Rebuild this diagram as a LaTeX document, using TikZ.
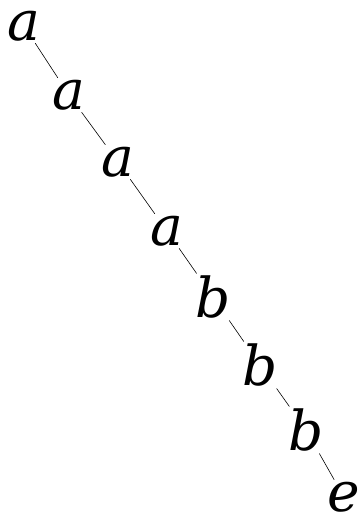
\documentclass[tikz,border=0pt]{standalone}
\usepackage{fontspec}
\setmainfont{DejaVu Serif}
\begin{document}
\begin{tikzpicture}[x=1pt,y=-1pt,
  lt/.style={font=\fontsize{55}{59}\selectfont\itshape, inner sep=2pt},
  edge/.style={draw=black, line width=0.6pt}]
\useasboundingbox (0,0) rectangle (359,526);
\node[lt] (n1) at (24,26) {a};
\node[lt] (n2) at (69,95) {a};
\node[lt] (n3) at (118,162) {a};
\node[lt] (n4) at (167,231) {a};
\node[lt] (n5) at (213,297) {b};
\node[lt] (n6) at (260,365) {b};
\node[lt] (n7) at (306,430) {b};
\node[lt] (n8) at (344,497) {e};
\draw[edge] (n1) -- (n2);
\draw[edge] (n2) -- (n3);
\draw[edge] (n3) -- (n4);
\draw[edge] (n4) -- (n5);
\draw[edge] (n5) -- (n6);
\draw[edge] (n6) -- (n7);
\draw[edge] (n7) -- (n8);
\end{tikzpicture}
\end{document}
